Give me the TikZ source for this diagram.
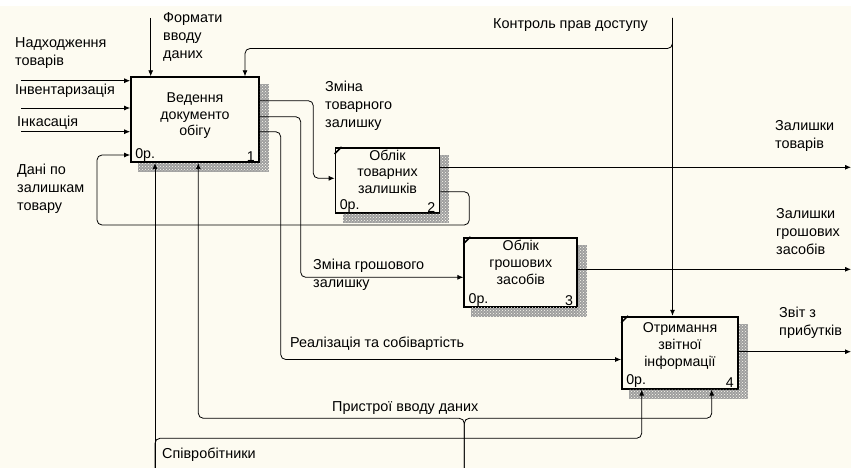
\documentclass[tikz,border=0pt]{standalone}
\usepackage{fontspec}
\setmainfont{Liberation Sans}
\usetikzlibrary{positioning,arrows.meta,patterns}
\definecolor{paper}{RGB}{253,251,241}

\begin{document}
\begin{tikzpicture}[x=1pt,y=-1pt,
  act/.style={draw=black,line width=1.8pt,fill=paper,inner sep=0pt},
  boxtext/.style={align=center,inner sep=0pt,font=\fontsize{14.2}{16.8}\selectfont},
  lbl/.style={align=left,anchor=north west,inner sep=0pt,font=\fontsize{14.4}{18}\selectfont},
  corner/.style={inner sep=0pt,font=\fontsize{14.2}{15}\selectfont},
  wire/.style={draw=black,line width=0.8pt,rounded corners=5pt},
  flow/.style={wire,-{Latex[length=6pt,width=5pt]}},
  shadowfill/.style={fill=black!38}]
   \fill[paper] (0,0) rectangle (851,468);
   \fill[white] (0,0) rectangle (851,6);
   \useasboundingbox (0,0) rectangle (851,468);

   % activity boxes
   \node[act,minimum width=128pt,minimum height=85pt] (a1) at (195,119.7) {};
   \node[act,minimum width=104pt,minimum height=65pt] (a2) at (387.5,180.3) {};
   \node[act,minimum width=113pt,minimum height=69pt] (a3) at (520.8,272.3) {};
   \node[act,minimum width=116pt,minimum height=72pt] (a4) at (680,352.7) {};
   \foreach \n in {a1,a2,a3,a4}{
     \fill[shadowfill] ([yshift=-8pt]\n.north east) rectangle ([xshift=9pt,yshift=-9pt]\n.south east);
     \fill[shadowfill] ([xshift=8pt]\n.south west) rectangle ([xshift=9pt,yshift=-9pt]\n.south east);
     \fill[pattern=crosshatch dots,pattern color=paper] ([yshift=-8pt]\n.north east) rectangle ([xshift=9pt,yshift=-9pt]\n.south east);
     \fill[pattern=crosshatch dots,pattern color=paper] ([xshift=8pt]\n.south west) rectangle ([xshift=9pt,yshift=-9pt]\n.south east);
     \node[corner,anchor=south west] at ([xshift=5pt,yshift=1.5pt]\n.south west) {0р.};
   }
   \node[corner,anchor=south east] at ([xshift=-5pt,yshift=1.5pt]a1.south east) {1};
   \node[corner,anchor=south east] at ([xshift=-5pt,yshift=1.5pt]a2.south east) {2};
   \node[corner,anchor=south east] at ([xshift=-5pt,yshift=1.5pt]a3.south east) {3};
   \node[corner,anchor=south east] at ([xshift=-5pt,yshift=1.5pt]a4.south east) {4};
   \foreach \n in {a2,a3,a4}
     \draw[line width=1.5pt] ([yshift=-7pt]\n.north west) -- ([xshift=7pt]\n.north west);

   \node[boxtext,below=16pt of a1.north] (t1) {Ведення\\документо\\обігу};
   \node[boxtext,below=2.5pt of a2.north] (t2) {Облік\\товарних\\залишків};
   \node[boxtext,below=3pt of a3.north] (t3) {Облік\\грошових\\засобів};
   \node[boxtext,below=6.5pt of a4.north] (t4) {Отримання\\звітної\\інформації};

   % free ends and bends
   \coordinate (s1) at (21,80.7);
   \coordinate (s2) at (21,108);
   \coordinate (s3) at (21,131.7);
   \coordinate (s4) at (150.7,18);
   \coordinate (s5) at (672.5,18);
   \coordinate (k1) at (245,48.5);
   \coordinate (p1) at (313.3,100.7);
   \coordinate (q1) at (313.3,178.3);
   \coordinate (p2) at (300.7,116.7);
   \coordinate (q2) at (300.7,277.3);
   \coordinate (p3) at (280.7,131.7);
   \coordinate (q3) at (280.7,359.5);
   \coordinate (l1) at (469.3,191.7);
   \coordinate (l2) at (469.3,225);
   \coordinate (l3) at (97,225);
   \coordinate (l4) at (97,155);
   \coordinate (e1) at (851,167.3);
   \coordinate (e2) at (851,269.3);
   \coordinate (e3) at (851,351.7);
   \coordinate (m1) at (155,468);
   \coordinate (m2) at (641.7,438.3);
   \coordinate (m3) at (464.3,468);
   \coordinate (m4) at (198.3,418.3);
   \coordinate (m5) at (711.7,418.3);

   % inputs and controls
   \draw[flow] (s1) -- (s1 -| a1.west);
   \draw[flow] (s2) -- (s2 -| a1.west);
   \draw[flow] (s3) -- (s3 -| a1.west);
   \draw[flow] (s4) -- (s4 |- a1.north);
   \draw[flow] (s5) -- (s5 |- a4.north);
   \draw[flow] (s5) |- (k1) -- (k1 |- a1.north);
   % links between boxes
   \draw[flow] (p1 -| a1.east) -- (p1) -- (q1) -- (q1 -| a2.west);
   \draw[flow] (p2 -| a1.east) -- (p2) -- (q2) -- (q2 -| a3.west);
   \draw[flow] (p3 -| a1.east) -- (p3) -- (q3) -- (q3 -| a4.west);
   \draw[flow] (l1 -| a2.east) -- (l1) -- (l2) -- (l3) -- (l4) -- (l4 -| a1.west);
   % outputs
   \draw[flow] (e1 -| a2.east) -- (e1);
   \draw[flow] (e2 -| a3.east) -- (e2);
   \draw[flow] (e3 -| a4.east) -- (e3);
   % mechanisms
   \draw[flow] (m1) -- (m1 |- a1.south);
   \draw[flow] (m1) |- (m2) -- (m2 |- a4.south);
   \draw[flow] (m3) |- (m4) -- (m4 |- a1.south);
   \draw[flow] (m3) |- (m5) -- (m5 |- a4.south);

   % arrow labels
   \node[lbl] at (15,37) {Надходження\\товарів};
   \node[lbl] at (15,84) {Інвентаризація};
   \node[lbl] at (17,116) {Інкасація};
   \node[lbl] at (17,164) {Дані по\\залишкам\\товару};
   \node[lbl] at (163,12) {Формати\\вводу\\даних};
   \node[lbl] at (493,18) {Контроль прав доступу};
   \node[lbl] at (325,81) {Зміна\\товарного\\залишку};
   \node[lbl] at (313,259) {Зміна грошового\\залишку};
   \node[lbl] at (290,337) {Реалізація та собівартість};
   \node[lbl] at (332,401) {Пристрої вводу даних};
   \node[lbl] at (162,448) {Співробітники};
   \node[lbl] at (775,120) {Залишки\\товарів};
   \node[lbl] at (776,208) {Залишки\\грошових\\засобів};
   \node[lbl] at (779,307) {Звіт з\\прибутків};
\end{tikzpicture}
\end{document}
